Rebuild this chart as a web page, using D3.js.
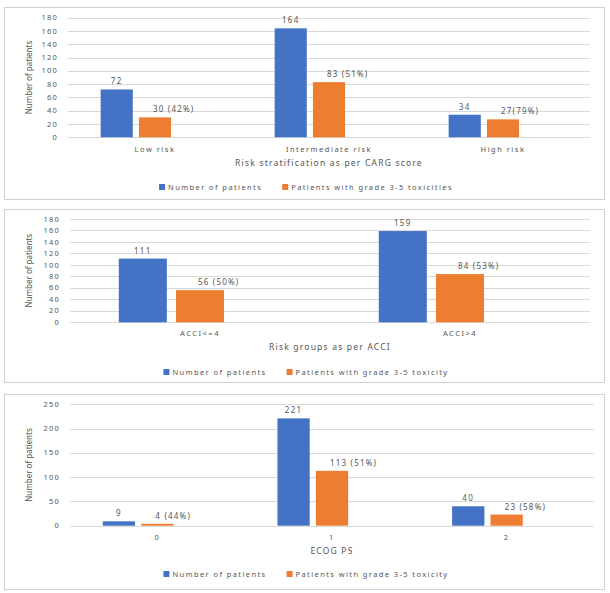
<!DOCTYPE html>
<html>
<head>
<meta charset="utf-8">
<script src="https://cdn.jsdelivr.net/npm/d3@7"></script>
<style>
  body { margin: 0; background: #fff; }
  svg text { font-family: "Noto Sans", "Open Sans", sans-serif; fill: #555; }
</style>
</head>
<body>
<div id="chart"></div>
<script>
// Chart data
const seriesNames = ["Number of patients", "Patients with grade 3-5 toxicities"];
const seriesNamesB = ["Number of patients", "Patients with grade 3-5 toxicity"];

const cargGroups = ["Low risk", "Intermediate risk", "High risk"];
const cargPatients = [72, 164, 34];
const cargToxic = [30, 83, 27];
const cargToxicLabels = ["30 (42%)", "83 (51%)", "27(79%)"];
const cargTicks = [0, 20, 40, 60, 80, 100, 120, 140, 160, 180];

const acciGroups = ["ACCI<=4", "ACCI>4"];
const acciPatients = [111, 159];
const acciToxic = [56, 84];
const acciToxicLabels = ["56 (50%)", "84 (53%)"];
const acciTicks = [0, 20, 40, 60, 80, 100, 120, 140, 160, 180];

const ecogGroups = ["0", "1", "2"];
const ecogPatients = [9, 221, 40];
const ecogToxic = [4, 113, 23];
const ecogToxicLabels = ["4 (44%)", "113 (51%)", "23 (58%)"];
const ecogTicks = [0, 50, 100, 150, 200, 250];

const blue = "#4472C4", orange = "#ED7D31";

const svg = d3.select("#chart").append("svg")
  .attr("width", 610)
  .attr("height", 593);

function drawPanel(o) {
  const g = svg.append("g");

  // panel border
  g.append("rect")
    .attr("x", o.box[0]).attr("y", o.box[1])
    .attr("width", o.box[2]).attr("height", o.box[3])
    .attr("fill", "#fff").attr("stroke", "#d0d0d0");

  const x = d3.scaleBand().domain(o.groups).range([o.left, o.right]);
  const y = d3.scaleLinear().domain([0, d3.max(o.ticks)]).range([o.bottom, o.top]);
  const step = x.bandwidth() * 0.22;
  // three slots per group, the third one is empty (as in the original)
  const inner = d3.scaleBand().domain([0, 1, 2])
    .range([-step * 1.5, step * 1.5]).paddingInner(0.16).paddingOuter(0.08);
  const cx = d => x(d) + x.bandwidth() / 2 - step;

  // gridlines
  g.selectAll(".grid").data(o.ticks).enter().append("line")
    .attr("x1", o.left).attr("x2", o.right)
    .attr("y1", d => Math.round(y(d)) + 0.5).attr("y2", d => Math.round(y(d)) + 0.5)
    .attr("stroke", "#d9d9d9");

  g.selectAll(".tick").data(o.ticks).enter().append("text")
    .attr("x", o.left - 10).attr("y", d => y(d)).attr("dy", "0.35em")
    .attr("text-anchor", "end")
    .style("font-size", "7.5px").style("letter-spacing", "1.2px")
    .text(d => d);

  const series = [o.patients, o.toxic];
  [blue, orange].forEach((col, s) => {
    g.selectAll(".bar" + s).data(o.groups).enter().append("rect")
      .attr("x", d => cx(d) + inner(s) + step)
      .attr("y", (d, i) => y(series[s][i]))
      .attr("width", inner.bandwidth())
      .attr("height", (d, i) => y(0) - y(series[s][i]))
      .attr("fill", col);
  });

  // value labels
  g.selectAll(".lab0").data(o.groups).enter().append("text")
    .attr("x", d => cx(d) + inner(0) + step + inner.bandwidth() / 2)
    .attr("y", (d, i) => y(o.patients[i]) - 5)
    .attr("text-anchor", "middle")
    .style("font-size", "8px").style("letter-spacing", "1.3px")
    .text((d, i) => o.patients[i]);
  g.selectAll(".lab1").data(o.groups).enter().append("text")
    .attr("x", d => cx(d) + inner(1) + step + inner.bandwidth() / 2 - 2)
    .attr("y", (d, i) => y(o.toxic[i]) - 5)
    .attr("text-anchor", "start")
    .style("font-size", "8px").style("letter-spacing", "1.2px")
    .text((d, i) => o.labels[i]);

  // category labels
  g.selectAll(".cat").data(o.groups).enter().append("text")
    .attr("x", d => x(d) + x.bandwidth() / 2)
    .attr("y", o.catY).attr("dy", "0.35em")
    .attr("text-anchor", "middle")
    .style("font-size", "7.5px").style("letter-spacing", "1.5px")
    .text(d => d);

  // axis titles
  g.append("text")
    .attr("transform", `translate(29,${(o.top + o.bottom) / 2}) rotate(-90)`)
    .attr("dy", "0.35em").attr("text-anchor", "middle")
    .style("font-size", "8px")
    .text("Number of patients");
  g.append("text")
    .attr("x", (o.left + o.right) / 2).attr("y", o.titleY).attr("dy", "0.35em")
    .attr("text-anchor", "middle")
    .style("font-size", "8.5px").style("letter-spacing", "1.2px")
    .text(o.title);

  // legend
  const leg = g.append("g");
  let lx = 0;
  o.names.forEach((name, i) => {
    leg.append("rect").attr("x", lx).attr("y", -3).attr("width", 6).attr("height", 6)
      .attr("fill", i === 0 ? blue : orange);
    const t = leg.append("text").attr("x", lx + 9).attr("y", 0).attr("dy", "0.35em")
      .style("font-size", "7.5px").style("letter-spacing", "1.4px")
      .text(name);
    lx += 9 + t.node().getComputedTextLength() + (i === 0 ? 20 : 0);
  });
  leg.attr("transform", `translate(${306 - lx / 2},${o.legY})`);
}

drawPanel({
  box: [4.5, 7.5, 600, 192],
  groups: cargGroups, patients: cargPatients, toxic: cargToxic, labels: cargToxicLabels,
  ticks: cargTicks, left: 68, right: 590, top: 17.7, bottom: 137.3,
  catY: 149, titleY: 163, legY: 187,
  title: "Risk stratification as per CARG score", names: seriesNames
});

drawPanel({
  box: [4.5, 209.5, 600, 173],
  groups: acciGroups, patients: acciPatients, toxic: acciToxic, labels: acciToxicLabels,
  ticks: acciTicks, left: 70, right: 590, top: 219, bottom: 322.3,
  catY: 333, titleY: 347, legY: 372,
  title: "Risk groups as per ACCI", names: seriesNamesB
});

drawPanel({
  box: [4.5, 394.5, 600, 195],
  groups: ecogGroups, patients: ecogPatients, toxic: ecogToxic, labels: ecogToxicLabels,
  ticks: ecogTicks, left: 70, right: 594, top: 404.3, bottom: 525.7,
  catY: 537, titleY: 551, legY: 574,
  title: "ECOG PS", names: seriesNamesB
});
</script>
</body>
</html>
